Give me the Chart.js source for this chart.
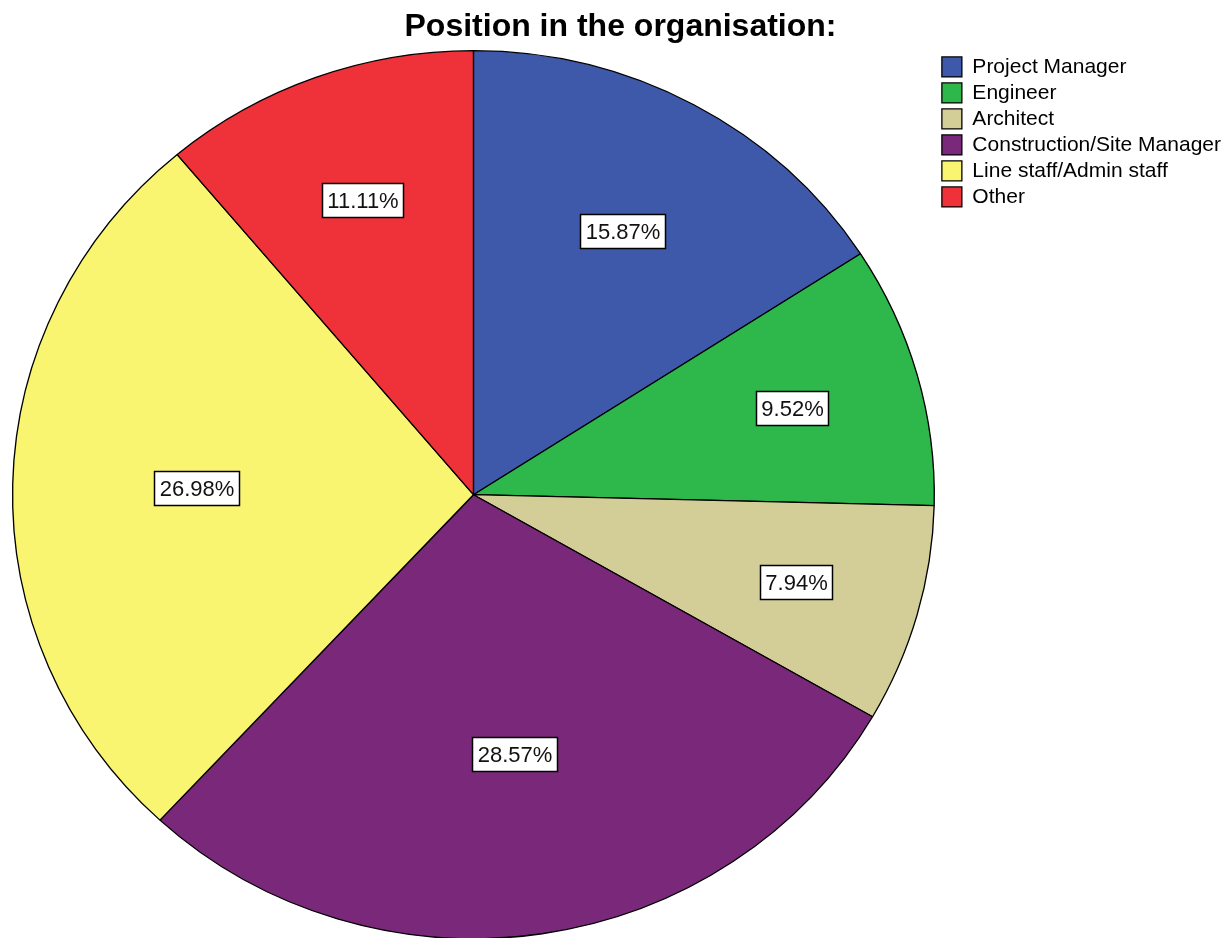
<!DOCTYPE html>
<html>
<head>
<meta charset="utf-8">
<title>Position in the organisation</title>
<script src="https://cdn.jsdelivr.net/npm/chart.js@4.4.1/dist/chart.umd.min.js"></script>
<style>
    html, body { margin: 0; padding: 0; background: #ffffff; }
    #wrap { width: 1231px; height: 938px; position: relative; }
</style>
</head>
<body>
<div id="wrap"><canvas id="positionChart"></canvas></div>
<script>
// Survey answers: share of respondents per position (%)
const positions = ['Project Manager', 'Engineer', 'Architect', 'Construction/Site Manager', 'Line staff/Admin staff', 'Other'];
const percentages = [15.87, 9.52, 7.94, 28.57, 26.98, 11.11];
const sliceColours = ['#3E58AA', '#2EB74A', '#D3CE98', '#7A287A', '#FAF570', '#EF323A'];

const FONT = '"Liberation Sans", Arial, sans-serif';
const STRETCH_X = 1.038; // the pie is a little wider than tall

// Stretch the pie horizontally, then put a boxed % label in each slice
const ovalPie = {
    id: 'ovalPie',
    beforeDatasetsDraw(chart) {
        const arc = chart.getDatasetMeta(0).data[0];
        const ctx = chart.ctx;
        ctx.save();
        ctx.translate(arc.x, arc.y);
        ctx.scale(STRETCH_X, 1);
        ctx.translate(-arc.x, -arc.y);
    },
    afterDatasetsDraw(chart) {
        const ctx = chart.ctx;
        ctx.restore();

        ctx.save();
        ctx.font = '22px ' + FONT;
        ctx.textAlign = 'center';
        ctx.textBaseline = 'middle';
        chart.getDatasetMeta(0).data.forEach(function(arc, i) {
            const p = arc.getProps(['x', 'y', 'startAngle', 'endAngle', 'outerRadius'], true);
            const half = (p.endAngle - p.startAngle) / 2;
            const mid = p.startAngle + half;
            // narrow slices get their label pushed further out
            const d = p.outerRadius * (0.78 - 0.21 * half);
            const lx = p.x + STRETCH_X * d * Math.cos(mid);
            const ly = p.y + d * Math.sin(mid);

            const text = percentages[i].toFixed(2) + '%';
            const w = Math.round(ctx.measureText(text).width + 10);
            const h = 34;
            const bx = Math.round(lx - w / 2) + 0.5;
            const by = Math.round(ly - h / 2) + 0.5;
            ctx.fillStyle = '#ffffff';
            ctx.fillRect(bx, by, w, h);
            ctx.strokeStyle = '#000000';
            ctx.lineWidth = 1.5;
            ctx.strokeRect(bx, by, w, h);
            ctx.fillStyle = '#111111';
            ctx.fillText(text, bx + w / 2, by + h / 2 + 1);
        });
        ctx.restore();
    }
};

const ctx = document.getElementById('positionChart').getContext('2d');
new Chart(ctx, {
    type: 'pie',
    data: {
        labels: positions,
        datasets: [{
            data: percentages,
            backgroundColor: sliceColours,
            borderColor: '#000000',
            borderWidth: 1.3,
            radius: 444
        }]
    },
    options: {
        responsive: true,
        maintainAspectRatio: false,
        animation: false,
        devicePixelRatio: 1,
        layout: {
            padding: { left: 10, right: 0, top: 0, bottom: 0 }
        },
        plugins: {
            title: {
                display: true,
                text: 'Position in the organisation:',
                color: '#000000',
                font: { family: FONT, size: 32, weight: 'bold' },
                padding: { top: 8, bottom: 5 }
            },
            legend: {
                position: 'right',
                align: 'start',
                fullSize: false,
                labels: {
                    color: '#000000',
                    font: { family: FONT, size: 21 },
                    boxWidth: 20,
                    boxHeight: 20,
                    padding: 5
                }
            },
            tooltip: { enabled: false }
        }
    },
    plugins: [ovalPie]
});
</script>
</body>
</html>
